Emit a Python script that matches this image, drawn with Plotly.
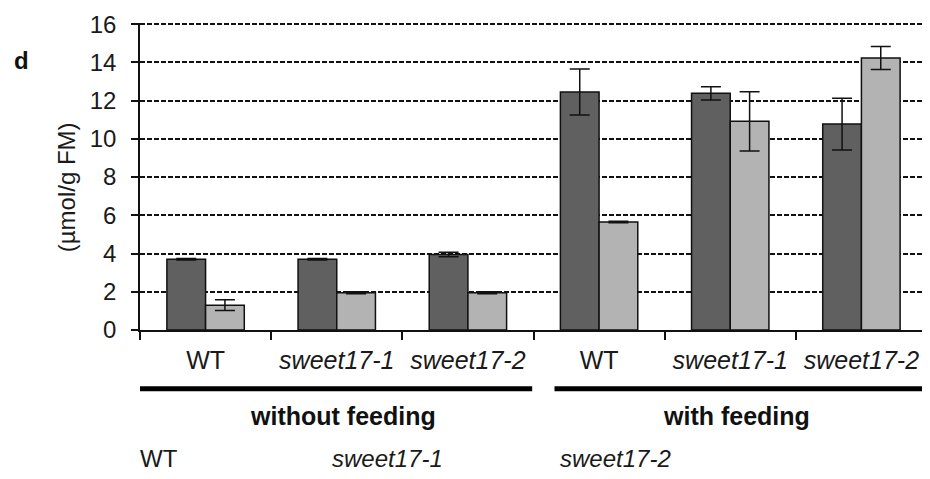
import plotly.graph_objects as go

# ---- data ----
category_ids = ["wo_WT", "wo_s1", "wo_s2", "w_WT", "w_s1", "w_s2"]
category_labels = ["WT", "<i>sweet17-1</i>", "<i>sweet17-2</i>",
                   "WT", "<i>sweet17-1</i>", "<i>sweet17-2</i>"]
dark_values = [3.7, 3.7, 3.95, 12.45, 12.38, 10.77]
dark_errors = [0.04, 0.04, 0.12, 1.2, 0.35, 1.35]
light_values = [1.3, 1.95, 1.95, 5.65, 10.92, 14.23]
light_errors = [0.28, 0.05, 0.05, 0.04, 1.55, 0.6]
group_labels = ["without feeding", "with feeding"]
y_ticks = [0, 2, 4, 6, 8, 10, 12, 14, 16]

FONT = "Liberation Sans, Arial, sans-serif"
DARK = "#606060"
LIGHT = "#b3b3b3"

fig = go.Figure()
for vals, errs, col in [(dark_values, dark_errors, DARK), (light_values, light_errors, LIGHT)]:
    fig.add_trace(go.Bar(
        x=category_ids, y=vals,
        marker=dict(color=col, line=dict(color="#111111", width=1.5)),
        error_y=dict(type="data", array=errs, visible=True, color="#111111",
                     thickness=1.5, width=10),
        showlegend=False,
    ))

# page body has an 8px default margin, so the figure is offset by 8px
fig.update_layout(
    width=922, height=471,
    margin=dict(l=132, r=3, t=7, b=149),
    paper_bgcolor="white", plot_bgcolor="white",
    barmode="group", bargap=0.41, bargroupgap=0,
    font=dict(family=FONT, color="#1a1a1a", size=24),
)

fig.update_xaxes(
    type="category",
    tickmode="array", tickvals=category_ids, ticktext=category_labels,
    tickson="boundaries", ticks="outside", ticklen=8, tickwidth=1.5, tickcolor="#111111",
    showline=True, linecolor="#111111", linewidth=1.5,
    showgrid=False, zeroline=False,
    tickfont=dict(family=FONT, size=25, color="#1a1a1a"),
    ticklabelstandoff=7,
    range=[-0.5, 5.5],
)
fig.update_yaxes(
    range=[0, 16.06], tickmode="array", tickvals=y_ticks,
    ticks="outside", ticklen=7, tickwidth=1.5, tickcolor="#111111",
    showline=True, linecolor="#111111", linewidth=1.5,
    showgrid=True, gridcolor="#111111", gridwidth=1.6, griddash="5px,2px",
    zeroline=False,
    tickfont=dict(family=FONT, size=24, color="#1a1a1a"),
    ticklabelstandoff=10,
    ticklabeloverflow="allow",
)

# group underline bars
for x0, x1 in [(-0.5, 2.49), (2.66, 5.55)]:
    fig.add_shape(type="line", xref="x", yref="paper", x0=x0, x1=x1, y0=-0.191, y1=-0.191,
                  line=dict(color="black", width=5))

# group labels
for xc, txt in [(1.05, group_labels[0]), (4.05, group_labels[1])]:
    fig.add_annotation(x=xc, y=-0.28, xref="x", yref="paper", text="<b>" + txt + "</b>",
                       showarrow=False, font=dict(family=FONT, size=25, color="#111111"),
                       xanchor="center", yanchor="middle")

# stray legend-like labels at bottom
for xp, txt in [(-0.003, "WT"), (0.241, "<i>sweet17-1</i>"), (0.531, "<i>sweet17-2</i>")]:
    fig.add_annotation(x=xp, y=-0.42, xref="paper", yref="paper", text=txt,
                       showarrow=False, font=dict(family=FONT, size=24, color="#1a1a1a"),
                       xanchor="left", yanchor="middle")

# panel letter
fig.add_annotation(x=-0.151, y=0.879, xref="paper", yref="paper", text="<b>d</b>",
                   showarrow=False, font=dict(family=FONT, size=24, color="#111111"),
                   xanchor="center", yanchor="middle")

# y-axis title
fig.add_annotation(x=-0.094, y=0.465, xref="paper", yref="paper", text="(µmol/g FM)",
                   textangle=-90, showarrow=False,
                   font=dict(family=FONT, size=24, color="#1a1a1a"),
                   xanchor="center", yanchor="middle")

fig.write_html("out.html")
